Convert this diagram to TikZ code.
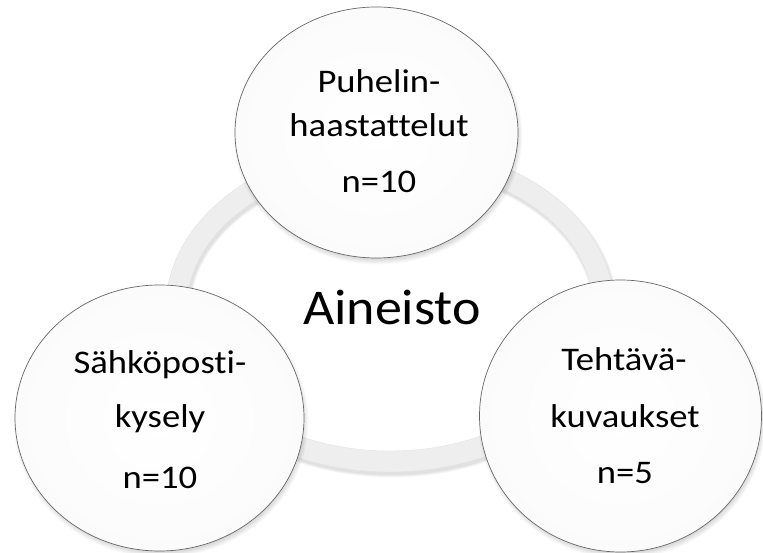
\documentclass[tikz,border=0pt]{standalone}
\usepackage{fontspec}
\setmainfont{Carlito}[Ligatures=NoCommon]
\usetikzlibrary{shapes.geometric}
\newcommand\bubshadowX[4]{%
  \foreach \k in {0,...,7}{%
    \fill[black, opacity=0.02] (#1+1.5,#2+3.5) ellipse [x radius=#3+3-\k*0.8, y radius=#4+3-\k*0.8];
  }}
\newcommand\stretchX[1]{\scalebox{1.11}[1]{#1}}
\begin{document}
\begin{tikzpicture}[x=1pt,y=-1pt,
  bubble/.style={ellipse, draw=gray!80!black, line width=0.7pt, inner sep=0pt,
                 inner color=white, outer color=gray!3},
  lbl/.style={anchor=base, inner sep=0pt, font=\fontsize{33}{40}\selectfont},
  ttl/.style={anchor=base, inner sep=0pt, font=\fontsize{50}{60}\selectfont},
]
\useasboundingbox (0,0) rectangle (763,553);
% ring shadow
\foreach \k in {0,...,5}{%
  \fill[black, opacity=0.018, even odd rule]
    (391.5,311) ellipse [x radius=225.5+1-\k*0.5, y radius=165.5+1-\k*0.5]
    (391.5,311) ellipse [x radius=201.5-1+\k*0.5, y radius=141.5-1+\k*0.5];
}
% ring
\fill[gray!13, even odd rule, draw=gray!22, line width=0.4pt]
  (390,308) ellipse [x radius=224, y radius=164]
  (390,308) ellipse [x radius=203, y radius=143];
% bubbles
\bubshadowX{376.5}{132.5}{141.5}{125.5}
\node[bubble, minimum width=283pt, minimum height=251pt] (cPhone) at (376.5,132.5) {};
\bubshadowX{159.5}{418}{144.5}{133}
\node[bubble, minimum width=289pt, minimum height=266pt] (cMail) at (159.5,418) {};
\bubshadowX{620.5}{416}{141}{136}
\node[bubble, minimum width=282pt, minimum height=272pt] (cTask) at (620.5,416) {};
% title
\node[ttl] (title) at (392,325) {\scalebox{1.08}[1]{Aineisto}};
% texts
\node[lbl] (p1) at (379,93) {\stretchX{Puhelin-}};
\node[lbl] (p2) at (379,137) {\stretchX{haastattelut}};
\node[lbl] (p3) at (379,193) {\stretchX{n=10}};
\node[lbl] (m1) at (160,373) {\stretchX{Sähköposti-}};
\node[lbl] (m2) at (160,427) {\stretchX{kysely}};
\node[lbl] (m3) at (160,488) {\stretchX{n=10}};
\node[lbl] (t1) at (624,370) {\stretchX{Tehtävä-}};
\node[lbl] (t2) at (625,427) {\stretchX{kuvaukset}};
\node[lbl] (t3) at (625,483) {\stretchX{n=5}};
\end{tikzpicture}
\end{document}
